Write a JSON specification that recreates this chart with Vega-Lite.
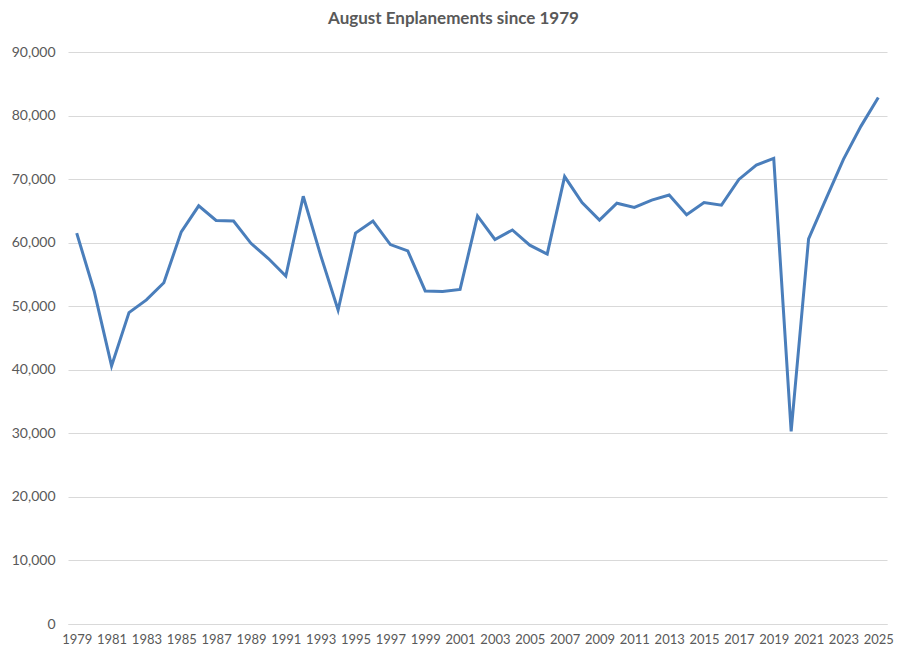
{
  "$schema": "https://vega.github.io/schema/vega-lite/v6.json",
  "width": 819,
  "height": 572,
  "autosize": {"type": "none"},
  "padding": {"left": 68, "top": 52, "right": 21, "bottom": 37},
  "background": "white",
  "title": {
    "text": "August Enplanements since 1979",
    "font": "Lato",
    "fontSize": 17,
    "fontWeight": "bold",
    "color": "#595959",
    "anchor": "middle",
    "dx": -24,
    "offset": 17
  },
  "data": {
    "values": [
      {"year": 1979, "enplanements": 61500},
      {"year": 1980, "enplanements": 52400},
      {"year": 1981, "enplanements": 40600},
      {"year": 1982, "enplanements": 49000},
      {"year": 1983, "enplanements": 51000},
      {"year": 1984, "enplanements": 53700},
      {"year": 1985, "enplanements": 61700},
      {"year": 1986, "enplanements": 65800},
      {"year": 1987, "enplanements": 63500},
      {"year": 1988, "enplanements": 63400},
      {"year": 1989, "enplanements": 59900},
      {"year": 1990, "enplanements": 57500},
      {"year": 1991, "enplanements": 54750},
      {"year": 1992, "enplanements": 67300},
      {"year": 1993, "enplanements": 58000},
      {"year": 1994, "enplanements": 49400},
      {"year": 1995, "enplanements": 61500},
      {"year": 1996, "enplanements": 63400},
      {"year": 1997, "enplanements": 59700},
      {"year": 1998, "enplanements": 58700},
      {"year": 1999, "enplanements": 52400},
      {"year": 2000, "enplanements": 52300},
      {"year": 2001, "enplanements": 52650},
      {"year": 2002, "enplanements": 64200},
      {"year": 2003, "enplanements": 60500},
      {"year": 2004, "enplanements": 62000},
      {"year": 2005, "enplanements": 59600},
      {"year": 2006, "enplanements": 58200},
      {"year": 2007, "enplanements": 70400},
      {"year": 2008, "enplanements": 66300},
      {"year": 2009, "enplanements": 63550},
      {"year": 2010, "enplanements": 66200},
      {"year": 2011, "enplanements": 65550},
      {"year": 2012, "enplanements": 66700},
      {"year": 2013, "enplanements": 67500},
      {"year": 2014, "enplanements": 64400},
      {"year": 2015, "enplanements": 66300},
      {"year": 2016, "enplanements": 65900},
      {"year": 2017, "enplanements": 69950},
      {"year": 2018, "enplanements": 72200},
      {"year": 2019, "enplanements": 73250},
      {"year": 2020, "enplanements": 30300},
      {"year": 2021, "enplanements": 60600},
      {"year": 2022, "enplanements": 66900},
      {"year": 2023, "enplanements": 73100},
      {"year": 2024, "enplanements": 78300},
      {"year": 2025, "enplanements": 82850}
    ]
  },
  "mark": {"type": "line", "color": "#4a7ebb", "strokeWidth": 3, "strokeJoin": "miter"},
  "encoding": {
    "x": {
      "field": "year",
      "type": "quantitative",
      "scale": {"domain": [1978.5, 2025.5], "nice": false, "zero": false},
      "axis": {
        "title": null,
        "values": [1979,1981,1983,1985,1987,1989,1991,1993,1995,1997,1999,2001,2003,2005,2007,2009,2011,2013,2015,2017,2019,2021,2023,2025],
        "format": "d",
        "grid": false,
        "ticks": false,
        "domain": true,
        "domainColor": "#d9d9d9",
        "domainWidth": 1,
        "labelFont": "Lato",
        "labelFontSize": 13,
        "labelColor": "#595959",
        "labelPadding": 9,
        "labelOverlap": false,
        "labelFlush": false
      }
    },
    "y": {
      "field": "enplanements",
      "type": "quantitative",
      "scale": {"domain": [0, 90000], "nice": false},
      "axis": {
        "title": null,
        "values": [0,10000,20000,30000,40000,50000,60000,70000,80000,90000],
        "format": ",d",
        "grid": true,
        "gridColor": "#d9d9d9",
        "gridWidth": 1,
        "ticks": false,
        "domain": false,
        "labelFont": "Lato",
        "labelFontSize": 14,
        "labelColor": "#595959",
        "labelPadding": 13
      }
    }
  },
  "config": {"view": {"stroke": null}}
}
